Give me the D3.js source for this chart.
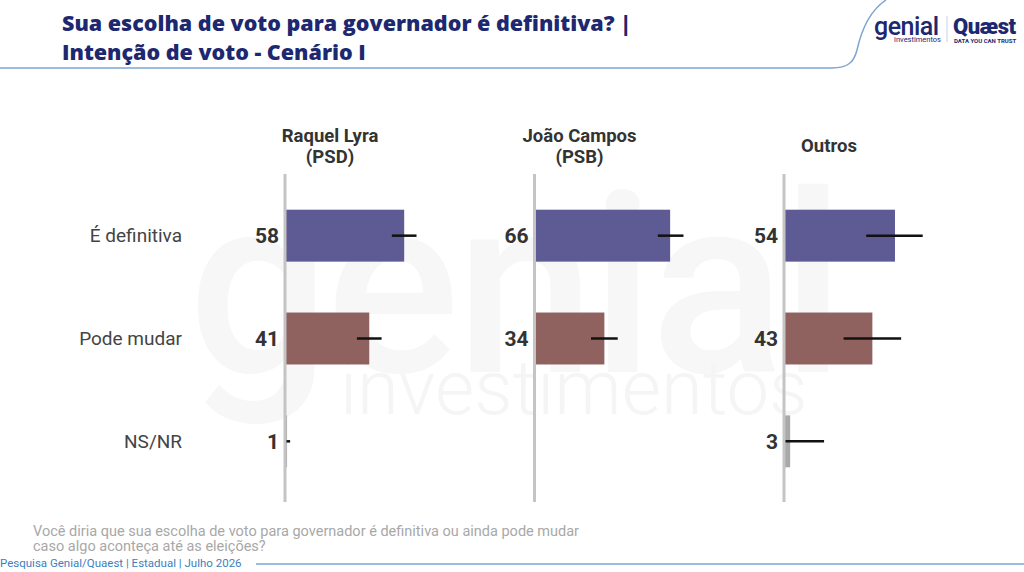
<!DOCTYPE html>
<html>
<head>
<meta charset="utf-8">
<script src="https://cdn.jsdelivr.net/npm/d3@7"></script>
<style>
  body { margin: 0; background: #fff; }
  svg { display: block; font-family: Roboto, "Noto Sans", sans-serif; }
</style>
</head>
<body>
<svg id="chart" width="1024" height="572"></svg>
<script>
// data
var categories = ["É definitiva", "Pode mudar", "NS/NR"];
var candidates = ["Raquel Lyra|(PSD)", "João Campos|(PSB)", "Outros"];
var raquelValues = [58, 41, 1];
var joaoValues   = [66, 34, null];
var outrosValues = [54, 43, 3];
// error bar ends (low, high)
var raquelLow  = [52, 35, 0],   raquelHigh = [64, 47, 2.5];
var joaoLow    = [60, 27.5, null], joaoHigh = [72.5, 40.5, null];
var outrosLow  = [40, 29, 0],   outrosHigh = [67.5, 57, 19.5];

var series = [
  {name: candidates[0], values: raquelValues, low: raquelLow, high: raquelHigh},
  {name: candidates[1], values: joaoValues,   low: joaoLow,   high: joaoHigh},
  {name: candidates[2], values: outrosValues, low: outrosLow, high: outrosHigh}
];

var barColors = {"É definitiva": "#5d5a94", "Pode mudar": "#8f615f", "NS/NR": "#a9a9a9"};
var navy = "#1d2870";
var lineBlue = "#7da5cf";

var svg = d3.select("#chart");

// watermark (very faint, behind everything)
svg.append("text")
    .attr("x", 188).attr("y", 372)
    .style("font-size", "250px").style("font-weight", 500)
    .style("fill", "#f7f7f7").style("letter-spacing", "-4px")
    .text("genial");
svg.append("text")
    .attr("x", 340).attr("y", 414)
    .style("font-size", "76px").style("font-weight", 300)
    .style("fill", "#f5f5f5")
    .text("investimentos");

// header
svg.append("path")
    .attr("d", "M0,68 L832,68 C848,68 854,62 857,50 C861,32 868,12 886,0")
    .attr("fill", "none").attr("stroke", lineBlue).attr("stroke-width", 1.5);

var title = svg.append("text")
    .style("font-family", "'Open Sans', Roboto, sans-serif")
    .style("font-size", "21.5px").style("font-weight", 800).style("fill", navy);
title.append("tspan").attr("x", 62).attr("y", 31).text("Sua escolha de voto para governador é definitiva? |");
title.append("tspan").attr("x", 62).attr("y", 60).text("Intenção de voto - Cenário I");

// logo
svg.append("text").attr("x", 874).attr("y", 35)
    .style("font-size", "25px").style("font-weight", 500).style("fill", navy)
    .style("letter-spacing", "-0.5px").text("genial");
svg.append("text").attr("x", 941).attr("y", 42).attr("text-anchor", "end")
    .style("font-size", "7.5px").style("fill", navy).text("investimentos");
svg.append("line").attr("x1", 947).attr("x2", 947).attr("y1", 16).attr("y2", 42)
    .attr("stroke", "#c9cfe0").attr("stroke-width", 1);
svg.append("text").attr("x", 953).attr("y", 34)
    .style("font-size", "22px").style("font-weight", 900).style("fill", navy)
    .style("letter-spacing", "-0.5px").text("Quæst");
svg.append("text").attr("x", 954).attr("y", 43)
    .style("font-size", "6px").style("font-weight", 700).style("fill", navy)
    .text("DATA YOU CAN TRUST");

// scales
var panelX = d3.scalePoint().domain(candidates).range([285, 784]);
var x = d3.scaleLinear().domain([0, 100]).range([0, 205.5]);
var y = d3.scaleBand().domain(categories).range([184, 493]).paddingInner(0.495).paddingOuter(0.25);

// category labels
svg.selectAll(".cat").data(categories).join("text")
    .attr("class", "cat")
    .attr("x", 182)
    .attr("y", function(d) { return y(d) + y.bandwidth() / 2; })
    .attr("dy", "0.35em")
    .attr("text-anchor", "end")
    .style("font-size", "19px").style("fill", "#444")
    .text(function(d) { return d; });

var panels = svg.selectAll(".panel").data(series).join("g")
    .attr("class", "panel")
    .attr("transform", function(d) { return "translate(" + panelX(d.name) + ",0)"; });

// panel headers
panels.each(function(s) {
  var lines = s.name.split("|");
  var t = d3.select(this).append("text")
      .attr("text-anchor", "middle")
      .style("font-size", "18.5px").style("font-weight", 700).style("fill", "#333");
  var y0 = lines.length > 1 ? 142 : 152;
  lines.forEach(function(l, i) {
    t.append("tspan").attr("x", 45).attr("y", y0 + i * 21).text(l);
  });
});

panels.each(function(s) {
  var g = d3.select(this);
  var rows = categories.map(function(c, i) {
    return {cat: c, v: s.values[i], lo: s.low[i], hi: s.high[i]};
  }).filter(function(r) { return r.v != null; });

  g.selectAll(".bar").data(rows).join("rect")
      .attr("class", "bar")
      .attr("x", 0)
      .attr("y", function(r) { return y(r.cat); })
      .attr("width", function(r) { return x(r.v); })
      .attr("height", y.bandwidth())
      .attr("fill", function(r) { return barColors[r.cat]; });

  g.selectAll(".err").data(rows).join("line")
      .attr("class", "err")
      .attr("x1", function(r) { return x(r.lo); })
      .attr("x2", function(r) { return x(r.hi); })
      .attr("y1", function(r) { return y(r.cat) + y.bandwidth() / 2; })
      .attr("y2", function(r) { return y(r.cat) + y.bandwidth() / 2; })
      .attr("stroke", "#111").attr("stroke-width", 2.5);

  g.selectAll(".val").data(rows).join("text")
      .attr("class", "val")
      .attr("x", -6)
      .attr("y", function(r) { return y(r.cat) + y.bandwidth() / 2; })
      .attr("dy", "0.36em")
      .attr("text-anchor", "end")
      .style("font-size", "21px").style("font-weight", 700).style("fill", "#333")
      .text(function(r) { return r.v; });

  g.append("line")
      .attr("x1", 0).attr("x2", 0).attr("y1", 174).attr("y2", 502)
      .attr("stroke", "#c4c4c4").attr("stroke-width", 3);
});

// question & footer
var q = svg.append("text").style("font-size", "14.5px").style("fill", "#a8a8a8");
q.append("tspan").attr("x", 33).attr("y", 536).text("Você diria que sua escolha de voto para governador é definitiva ou ainda pode mudar");
q.append("tspan").attr("x", 33).attr("y", 551).text("caso algo aconteça até as eleições?");

svg.append("text").attr("x", 0).attr("y", 567)
    .style("font-size", "11.5px").style("fill", "#3d80c0")
    .text("Pesquisa Genial/Quaest | Estadual | Julho 2026");
svg.append("line").attr("x1", 256).attr("x2", 1024).attr("y1", 564).attr("y2", 564)
    .attr("stroke", lineBlue).attr("stroke-width", 1.5);
</script>
</body>
</html>
